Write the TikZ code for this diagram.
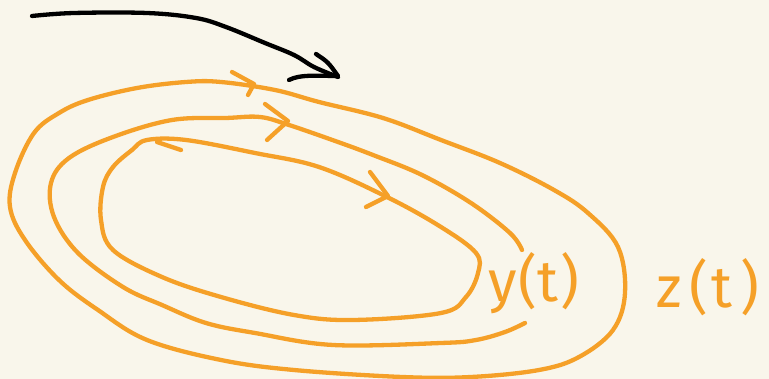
\documentclass[tikz,border=0pt]{standalone}
\usepackage{fontspec}
\setmainfont{Fira Sans}
\definecolor{bgc}{RGB}{249,246,235}
\definecolor{orng}{RGB}{245,160,40}
\begin{document}
\begin{tikzpicture}[x=1pt,y=-1pt,
  stroke/.style={line width=4.3pt,line cap=round,line join=round},
  ostroke/.style={stroke,draw=orng},
  lbl/.style={text=orng,font=\fontsize{58}{58}\selectfont,inner sep=0pt}]
\fill[bgc] (0,0) rectangle (769,379);
\useasboundingbox (0,0) rectangle (769,379);
% black arrow
\draw[stroke,black] plot[smooth,tension=0.6] coordinates {(32,16) (74,13) (147,13) (196,18) (226,27) (265,43) (294,55) (314,67) (338,77)};
\draw[stroke,black] (316,54) .. controls (328,62) .. (338,76) .. controls (320,76) and (300,74) .. (289,80);
% outer loop
\draw[ostroke] plot[smooth cycle,tension=0.6] coordinates {(221,82) (275,90) (319,102) (383,118) (441,140) (500,163) (554,190) (588,213) (618,247) (625,293) (613,330) (579,357) (539,370) (471,377) (402,377) (294,370) (221,360) (147,340) (98,310) (59,280) (25,240) (10,207) (15,173) (34,133) (59,113) (88,100) (137,88) (186,82)};
\draw[ostroke] (232,72) -- (254,84) -- (248,95);
% middle loop
\draw[ostroke] plot[smooth,tension=0.6] coordinates {(522,250) (510,233) (471,203) (422,175) (373,155) (338,142) (289,125) (260,117) (226,118) (172,120) (113,137) (69,158) (51,183) (54,217) (78,253) (123,287) (162,305) (206,323) (255,333) (333,345) (441,343) (476,340) (505,332) (525,323)};
\draw[ostroke] (265,104) -- (288,121) -- (267,140);
% inner loop
\draw[ostroke] plot[smooth cycle,tension=0.6] coordinates {(132,150) (147,140) (186,140) (255,153) (319,167) (387,197) (441,227) (476,253) (478,273) (466,297) (441,313) (353,320) (294,315) (221,297) (162,277) (113,250) (101,220) (103,187) (113,167)};
\draw[ostroke] (157,142) -- (181,150);
\draw[ostroke] (370,172) -- (388,196) -- (366,207);
% labels
\node[lbl] (ylab) at (534,283) {y\kern2pt(t\kern2pt)};
\node[lbl] (zlab) at (708,287) {z\kern8pt(\kern3pt t\kern8pt)};
\end{tikzpicture}
\end{document}
